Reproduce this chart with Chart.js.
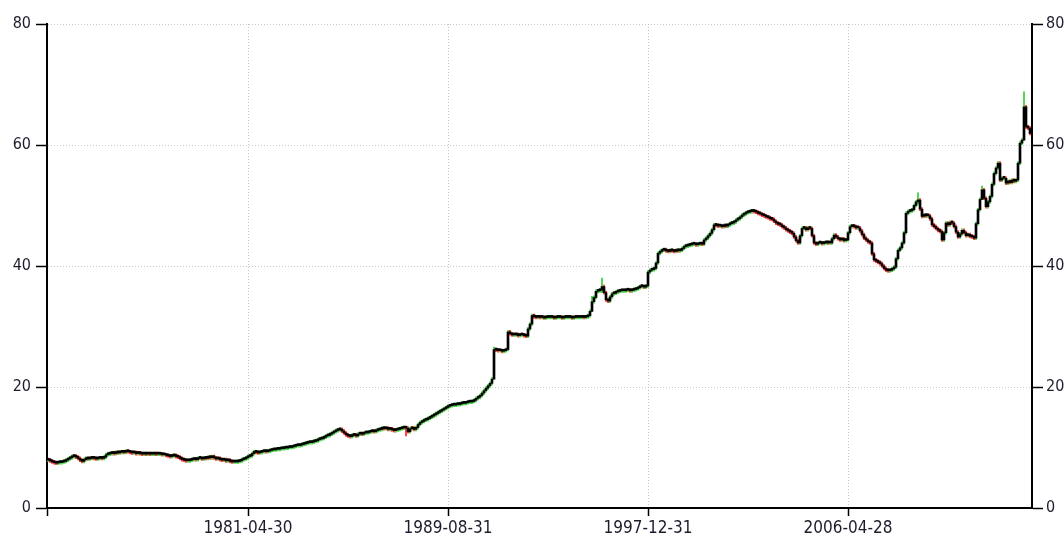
<!DOCTYPE html>
<html>
<head>
<meta charset="utf-8">
<script src="https://cdn.jsdelivr.net/npm/chart.js@4.4.0/dist/chart.umd.min.js"></script>
<style>
  html, body { margin: 0; padding: 0; background: #fff; }
  #wrap { width: 1064px; height: 541px; position: relative; }
</style>
</head>
<body>
<div id="wrap"><canvas id="priceChart"></canvas></div>
<script>
// monthly closes, one row per 12 bars (bar 0 = 1972-12, bar 100 = 1981-04)
const closes = [
  7.9, 7.8, 7.6, 7.5, 7.4, 7.5, 7.5, 7.6, 7.7, 7.9, 8.1, 8.3,
  8.5, 8.6, 8.4, 8.2, 7.9, 7.7, 8.0, 8.2, 8.1, 8.2, 8.3, 8.2,
  8.1, 8.2, 8.3, 8.2, 8.4, 8.8, 8.9, 9.0, 9.1, 9.0, 9.2, 9.1,
  9.2, 9.3, 9.2, 9.4, 9.3, 9.2, 9.1, 9.2, 9.0, 9.1, 9.0, 8.9,
  9.0, 8.9, 9.0, 8.9, 8.9, 9.0, 8.9, 8.9, 8.9, 8.8, 8.8, 8.7,
  8.6, 8.5, 8.6, 8.7, 8.5, 8.4, 8.2, 8.0, 7.9, 7.8, 7.8, 7.9,
  8.0, 8.1, 8.0, 8.2, 8.2, 8.1, 8.3, 8.2, 8.4, 8.3, 8.5, 8.3,
  8.1, 8.2, 8.0, 7.9, 8.0, 7.8, 7.9, 7.7, 7.6, 7.6, 7.6, 7.7,
  7.8, 8.0, 8.1, 8.3, 8.5, 8.6, 9.0, 9.3, 9.2, 9.1, 9.2, 9.3,
  9.4, 9.3, 9.4, 9.5, 9.6, 9.6, 9.7, 9.7, 9.8, 9.8, 9.9, 9.9,
  10.0, 10.0, 10.1, 10.2, 10.3, 10.3, 10.4, 10.5, 10.6, 10.7, 10.8, 10.8,
  10.9, 11.0, 11.1, 11.3, 11.4, 11.5, 11.7, 11.9, 12.0, 12.2, 12.4, 12.6,
  12.8, 12.9, 13.0, 12.7, 12.4, 12.1, 11.9, 11.8, 12.0, 12.1, 11.9, 12.2,
  12.3, 12.2, 12.4, 12.4, 12.5, 12.6, 12.7, 12.6, 12.8, 12.9, 13.0, 13.2,
  13.1, 13.2, 13.0, 13.1, 12.9, 12.8, 12.9, 13.0, 13.1, 13.2, 13.3, 13.2,
  12.6, 13.1, 13.2, 13.0, 13.3, 13.8, 14.1, 14.3, 14.5, 14.6, 14.8, 15.0,
  15.2, 15.4, 15.6, 15.8, 16.0, 16.2, 16.4, 16.6, 16.8, 16.9, 17.0, 17.0,
  17.1, 17.1, 17.2, 17.3, 17.3, 17.4, 17.5, 17.5, 17.6, 17.8, 18.1, 18.3,
  18.6, 19.0, 19.4, 19.8, 20.2, 20.6, 21.3, 26.2, 26.1, 26.0, 26.0, 25.9,
  26.0, 26.2, 29.1, 28.8, 28.6, 28.6, 28.7, 28.5, 28.6, 28.6, 28.5, 28.4,
  29.6, 30.4, 31.8, 31.6, 31.5, 31.6, 31.5, 31.5, 31.4, 31.5, 31.5, 31.5,
  31.5, 31.4, 31.5, 31.5, 31.5, 31.4, 31.5, 31.5, 31.5, 31.5, 31.4, 31.5,
  31.5, 31.5, 31.5, 31.6, 31.5, 31.6, 31.8, 32.5, 34.1, 34.8, 35.8, 35.9,
  36.0, 36.6, 35.6, 34.4, 34.2, 34.9, 35.4, 35.5, 35.7, 35.8, 35.9, 35.9,
  35.9, 36.0, 36.0, 35.9, 36.0, 36.1, 36.2, 36.4, 36.6, 36.6, 36.5, 36.7,
  39.0, 39.3, 39.4, 39.6, 40.5, 42.1, 42.4, 42.6, 42.7, 42.5, 42.4, 42.6,
  42.5, 42.4, 42.6, 42.5, 42.6, 42.9, 43.2, 43.3, 43.4, 43.5, 43.6, 43.6,
  43.5, 43.6, 43.7, 43.6, 44.3, 44.6, 45.0, 45.4, 46.0, 46.8, 46.7, 46.6,
  46.6, 46.5, 46.7, 46.6, 46.8, 47.0, 47.1, 47.3, 47.6, 47.8, 48.1, 48.4,
  48.6, 48.8, 48.9, 49.0, 49.1, 49.0, 48.9, 48.7, 48.6, 48.4, 48.3, 48.1,
  48.0, 47.8, 47.7, 47.4, 47.1, 46.9, 46.8, 46.5, 46.3, 46.0, 45.8, 45.6,
  45.4, 44.8, 44.2, 43.8, 45.0, 46.2, 46.3, 46.0, 46.3, 46.2, 45.0, 43.8,
  43.6, 43.8, 43.8, 43.7, 43.8, 43.9, 43.8, 43.8, 44.5, 45.1, 44.8, 44.5,
  44.3, 44.5, 44.2, 44.3, 45.5, 46.5, 46.6, 46.5, 46.3, 46.3, 45.8, 45.2,
  44.6, 44.3, 44.0, 43.8, 42.0, 41.0, 40.8, 40.6, 40.4, 40.0, 39.6, 39.3,
  39.2, 39.3, 39.5, 39.8, 41.2, 42.6, 43.0, 43.8, 45.5, 48.7, 49.0, 49.1,
  49.3, 50.0, 50.6, 50.9, 49.4, 48.2, 48.4, 48.3, 48.3, 47.8, 46.8, 46.5,
  46.2, 45.9, 45.7, 44.3, 45.5, 47.1, 46.8, 47.2, 47.1, 46.5, 45.6, 44.8,
  45.3, 45.9, 45.5, 45.0, 45.2, 44.9, 44.8, 44.6, 47.0, 49.3, 51.0, 52.6,
  51.2, 49.8, 50.6, 51.5, 53.5, 55.3, 56.2, 57.0, 54.2, 54.5, 54.5, 53.7,
  54.0, 53.8, 54.2, 54.0, 54.2, 57.0, 60.3, 60.8, 66.3, 63.0, 62.8, 61.9
];

// bars whose high/low wick sticks out visibly: bar index -> [low, high]
const spikes = {
  179: [11.9, 13.4],
  223: [21.3, 26.6],
  272: [32.5, 35.0],
  277: [35.6, 38.0],
  435: [50.2, 52.1],
  467: [51.0, 53.2],
  488: [60.8, 68.8]
};

const tickBars = [-0.5, 100, 200, 300, 400];
const tickLabels = ['', '1981-04-30', '1989-08-31', '1997-12-31', '2006-04-28'];
const yTicks = [0, 20, 40, 60, 80];

const upColor = '#33cc33';
const downColor = '#ff2020';

const bodies = [];
const wicks = [];
const wickColors = [];
closes.forEach(function (c, i) {
  const o = i === 0 ? c : closes[i - 1];
  bodies.push({ x: i, y: [o, c] });
  const rng = spikes[i] || [Math.min(o, c) - 0.25, Math.max(o, c) + 0.25];
  wicks.push({ x: i, y: rng });
  wickColors.push(c >= o ? upColor : downColor);
});

const fontFamily = '"DejaVu Sans Condensed", "DejaVu Sans", sans-serif';

const config = {
  type: 'bar',
  data: {
    datasets: [
      {
        label: 'body',
        data: bodies,
        backgroundColor: '#000',
        barThickness: 2,
        minBarLength: 2,
        grouped: false,
        order: 0
      },
      {
        label: 'wick',
        data: wicks,
        backgroundColor: wickColors,
        barThickness: 1,
        grouped: false,
        order: 1
      }
    ]
  },
  options: {
    responsive: true,
    maintainAspectRatio: false,
    animation: false,
    layout: { padding: { top: 24, left: 0, right: 0, bottom: 0 } },
    plugins: {
      legend: { display: false },
      tooltip: { enabled: false }
    },
    scales: {
      x: {
        type: 'linear',
        min: -0.5,
        max: 492,
        offset: false,
        afterBuildTicks: function (scale) {
          scale.ticks = tickBars.map(function (v) { return { value: v }; });
        },
        afterFit: function (scale) { scale.height = 33; },
        ticks: {
          autoSkip: false,
          maxRotation: 0,
          padding: 2,
          color: '#1c1c2c',
          font: { family: fontFamily, size: 17 },
          callback: function (value) {
            const k = tickBars.indexOf(value);
            return k >= 0 ? tickLabels[k] : '';
          }
        },
        grid: {
          offset: false,
          color: function (ctx) {
            return ctx.tick && ctx.tick.value === -0.5 ? 'rgba(0,0,0,0)' : '#c8c8c8';
          },
          tickColor: '#000',
          tickLength: 8,
          tickWidth: 1.5
        },
        border: { color: '#000', width: 2, dash: [1, 2] }
      },
      y: {
        position: 'left',
        min: 0,
        max: 80,
        afterBuildTicks: function (scale) {
          scale.ticks = yTicks.map(function (v) { return { value: v }; });
        },
        afterFit: function (scale) { scale.width = 47; },
        ticks: {
          padding: 5,
          color: '#1c1c2c',
          font: { family: fontFamily, size: 16 }
        },
        grid: {
          color: '#c8c8c8',
          tickColor: '#000',
          tickLength: 11,
          tickWidth: 1.5
        },
        border: { color: '#000', width: 2, dash: [1, 2] }
      },
      y2: {
        position: 'right',
        min: 0,
        max: 80,
        afterBuildTicks: function (scale) {
          scale.ticks = yTicks.map(function (v) { return { value: v }; });
        },
        afterFit: function (scale) { scale.width = 32; },
        ticks: {
          padding: 3,
          color: '#1c1c2c',
          font: { family: fontFamily, size: 16 }
        },
        grid: {
          drawOnChartArea: false,
          tickColor: '#000',
          tickLength: 11,
          tickWidth: 1.5
        },
        border: { color: '#000', width: 2 }
      }
    }
  }
};

new Chart(document.getElementById('priceChart').getContext('2d'), config);
</script>
</body>
</html>
